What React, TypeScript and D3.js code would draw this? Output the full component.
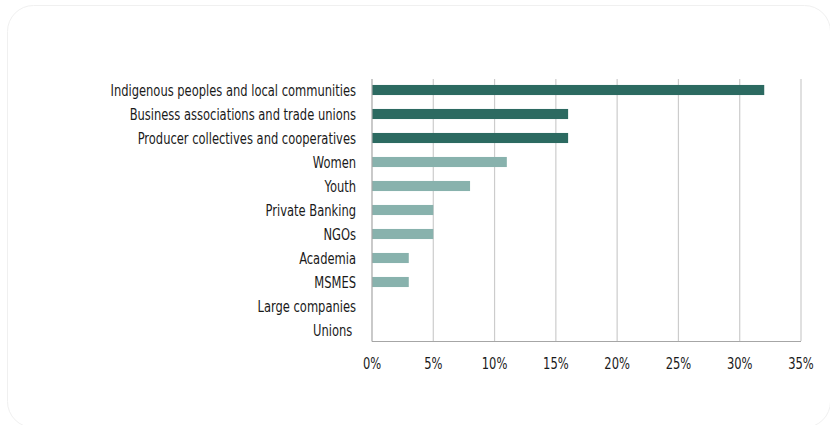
import React from "react";
import * as d3 from "d3";

const categories = [
  "Indigenous peoples and local communities",
  "Business associations and trade unions",
  "Producer collectives and cooperatives",
  "Women",
  "Youth",
  "Private Banking",
  "NGOs",
  "Academia",
  "MSMES",
  "Large companies",
  "Unions ",
];
const values = [32, 16, 16, 11, 8, 5, 5, 3, 3, 0, 0];
const highlight = [true, true, true, false, false, false, false, false, false, false, false];
const tickValues = [0, 5, 10, 15, 20, 25, 30, 35];

const W = 830;
const H = 425;
const FONT = "'DejaVu Sans Condensed', 'Liberation Sans Narrow', sans-serif";
const SX = 0.8;

export default function App() {
  const x = d3.scaleLinear().domain([0, 35]).range([372, 801]);
  const y = d3.scaleBand<string>().domain(categories).range([78, 342]).paddingInner(0.58).paddingOuter(0.29);
  return (
    <svg width={W} height={H} style={{ position: "absolute", left: 0, top: 0, display: "block" }}>
      <rect x={0} y={0} width={W} height={H} fill="#ffffff" />
      <rect x={7.5} y={5.5} width={823} height={422} rx={26} ry={26} fill="#ffffff" stroke="#f0f0f0" strokeWidth={1} />
      {tickValues.slice(1).map((t) => (
        <line key={t} x1={x(t)} x2={x(t)} y1={79} y2={341} stroke="#cccccc" strokeWidth={1.2} />
      ))}
      {categories.map((c, i) => (
        <rect
          key={c}
          x={x(0)}
          y={y(c)!}
          width={x(values[i]) - x(0)}
          height={y.bandwidth()}
          fill={highlight[i] ? "#2c6a61" : "#88b2ad"}
        />
      ))}
      <line x1={x(0)} x2={x(0)} y1={79} y2={341.5} stroke="#a6a6a6" strokeWidth={1.2} />
      <line x1={x(0)} x2={x(35)} y1={341.5} y2={341.5} stroke="#a6a6a6" strokeWidth={1.2} />
      {categories.map((c) => (
        <text
          key={c}
          transform={`translate(356,${y(c)! + y.bandwidth() / 2}) scale(${SX},1)`}
          dy="0.36em"
          textAnchor="end"
          fontFamily={FONT}
          fontSize={16}
          fill="#1a1a1a"
          style={{ whiteSpace: "pre" }}
        >
          {c}
        </text>
      ))}
      {tickValues.map((t) => (
        <text
          key={t}
          transform={`translate(${x(t)},363) scale(${SX},1)`}
          dy="0.36em"
          textAnchor="middle"
          fontFamily={FONT}
          fontSize={16}
          fill="#1a1a1a"
        >
          {t + "%"}
        </text>
      ))}
    </svg>
  );
}
